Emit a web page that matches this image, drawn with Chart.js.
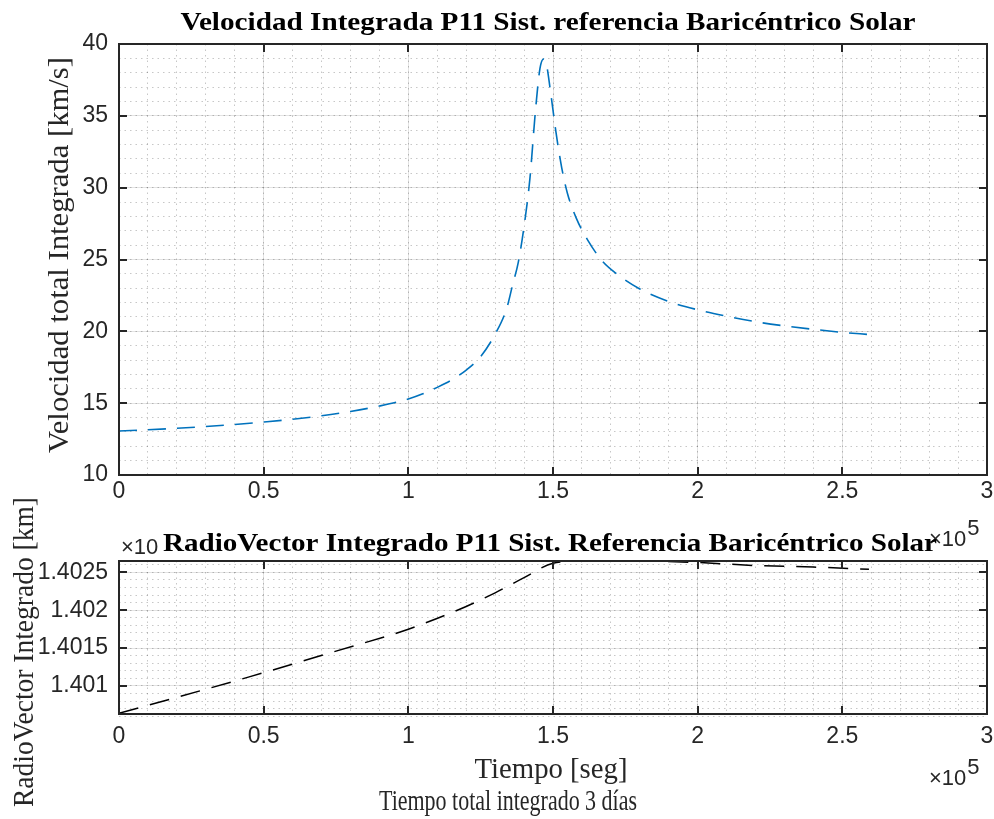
<!DOCTYPE html>
<html>
<head>
<meta charset="utf-8">
<script src="https://cdn.jsdelivr.net/npm/chart.js@4.4.0/dist/chart.umd.min.js"></script>
<style>
    html, body { margin: 0; padding: 0; background: #fff; }
    #wrap { position: relative; width: 994px; height: 819px; }
    canvas { position: absolute; left: 0; top: 0; }
</style>
</head>
<body>
<div id="wrap">
    <canvas id="velChart" width="994" height="819"></canvas>
    <canvas id="radChart" width="994" height="819"></canvas>
</div>
<script>
// tiempo en unidades de 1e5 s
const tiempoVel = [0, 0.2, 0.4, 0.5, 0.6, 0.7, 0.8, 0.9, 1.0, 1.05, 1.1, 1.15, 1.2, 1.25, 1.3, 1.34, 1.36, 1.38, 1.4, 1.42, 1.44, 1.455, 1.467, 1.478, 1.49, 1.51, 1.53, 1.55, 1.58, 1.62, 1.67, 1.72, 1.8, 1.9, 2.0, 2.1, 2.2, 2.3, 2.4, 2.5, 2.592];
// km/s
const velocidad = [13.06, 13.25, 13.52, 13.69, 13.88, 14.12, 14.42, 14.8, 15.29, 15.65, 16.1, 16.62, 17.3, 18.25, 19.8, 21.6, 23.2, 24.8, 27.3, 30.6, 35.5, 38.3, 38.95, 38.5, 36.9, 33.9, 31.4, 29.6, 27.9, 26.35, 24.9, 24.0, 22.95, 22.08, 21.5, 21.05, 20.67, 20.38, 20.14, 19.93, 19.78];

const tiempoRad = [0, 0.2, 0.45, 0.75, 1.0, 1.2, 1.3, 1.4, 1.5, 1.6, 1.8, 2.0, 2.2, 2.4, 2.592];
// km x 1e8
const radio = [1.40064, 1.40085, 1.40112, 1.40146, 1.40175, 1.40205, 1.40223, 1.40243, 1.40262, 1.40265, 1.40265, 1.40263, 1.40259, 1.40257, 1.40254];

const ticksTiempo = [0, 0.5, 1, 1.5, 2, 2.5, 3];
const ticksVel = [10, 15, 20, 25, 30, 35, 40];
const ticksRad = [1.401, 1.4015, 1.402, 1.4025];

const SANS = '"Liberation Sans", Arial, sans-serif';
const SERIF = '"Liberation Serif", "Times New Roman", serif';

function pasos(a, b, d) {
    const out = [];
    for (let v = a; v <= b + d / 2; v += d) out.push({value: Math.round(v / d) * d});
    return out;
}

// texto con ancho fijo (la figura original esta algo deformada)
function texto(ctx, t) {
    ctx.save();
    ctx.font = t.font;
    ctx.fillStyle = t.color || '#262626';
    ctx.textAlign = t.align || 'center';
    ctx.textBaseline = 'alphabetic';
    const w = ctx.measureText(t.text).width;
    ctx.translate(t.x, t.y);
    if (t.rot) ctx.rotate(t.rot);
    if (t.width) ctx.scale(t.width / w, 1);
    ctx.fillText(t.text, 0, 0);
    if (t.sup) {
        ctx.textAlign = 'left';
        ctx.fillText(t.sup, w + 1, -11);
    }
    ctx.restore();
}

const marcoMatlab = {
    id: 'marcoMatlab',
    afterDraw(chart, args, opts) {
        const {ctx, chartArea: a, scales} = chart;
        ctx.save();
        ctx.strokeStyle = '#262626';
        ctx.lineWidth = 2;
        ctx.beginPath();
        scales.x.ticks.forEach(t => {
            const px = Math.round(scales.x.getPixelForValue(t.value));
            ctx.moveTo(px, a.bottom); ctx.lineTo(px, a.bottom - 8);
            ctx.moveTo(px, a.top); ctx.lineTo(px, a.top + 8);
        });
        scales.y.ticks.forEach(t => {
            const py = Math.round(scales.y.getPixelForValue(t.value));
            ctx.moveTo(a.left, py); ctx.lineTo(a.left + 8, py);
            ctx.moveTo(a.right, py); ctx.lineTo(a.right - 8, py);
        });
        ctx.stroke();
        ctx.strokeRect(a.left, a.top, a.right - a.left, a.bottom - a.top);
        ctx.restore();
        (opts.textos || []).forEach(t => texto(ctx, t));
    }
};

function minorGrid(axis, step, min, max) {
    return {
        type: 'linear',
        axis: axis,
        position: axis === 'x' ? 'bottom' : 'left',
        min: min,
        max: max,
        afterBuildTicks: s => { s.ticks = pasos(min, max, step); },
        afterFit: s => {
            if (axis === 'x') s.height = 0; else s.width = 0;
            s.paddingLeft = s.paddingRight = s.paddingTop = s.paddingBottom = 0;
        },
        ticks: {display: false},
        grid: {color: 'rgba(38,38,38,0.26)', lineWidth: 1, drawTicks: false},
        border: {display: false, dash: [1.5, 4]}
    };
}

function ejes(xTicks, yTicks, yMin, yMax, yStep, xHeight, xPad, fmt) {
    return {
        xMinor: minorGrid('x', 0.1, 0, 3),
        yMinor: minorGrid('y', yStep, yMin, yMax),
        x: {
            type: 'linear',
            min: 0,
            max: 3,
            afterBuildTicks: s => { s.ticks = xTicks.map(v => ({value: v})); },
            afterFit: s => {
                s.height = xHeight;
                s.paddingLeft = 0;
                s.paddingRight = 0;
            },
            ticks: {
                color: '#262626',
                font: {family: SANS, size: 23},
                padding: xPad,
                maxRotation: 0,
                autoSkip: false,
                callback: v => String(v)
            },
            grid: {color: 'rgba(38,38,38,0.13)', lineWidth: 1, drawTicks: false},
            border: {display: false}
        },
        y: {
            type: 'linear',
            min: yMin,
            max: yMax,
            afterBuildTicks: s => { s.ticks = yTicks.map(v => ({value: v})); },
            afterFit: s => {
                s.width = 119;
                s.paddingTop = 0;
                s.paddingBottom = 0;
            },
            ticks: {
                color: '#262626',
                font: {family: SANS, size: 23},
                padding: 11,
                autoSkip: false,
                callback: fmt
            },
            grid: {color: 'rgba(38,38,38,0.13)', lineWidth: 1, drawTicks: false},
            border: {display: false}
        }
    };
}

const comunes = {
    responsive: false,
    maintainAspectRatio: false,
    animation: false,
    events: []
};

new Chart(document.getElementById('velChart').getContext('2d'), {
    type: 'line',
    data: {
        datasets: [{
            data: tiempoVel.map((t, i) => ({x: t, y: velocidad[i]})),
            borderColor: '#0072BD',
            borderWidth: 1.6,
            borderDash: [18, 11],
            pointRadius: 0,
            cubicInterpolationMode: 'monotone',
            fill: false
        }]
    },
    options: {
        ...comunes,
        layout: {padding: {left: 0, right: 7, top: 44, bottom: 0}},
        scales: ejes(ticksTiempo, ticksVel, 10, 40, 1, 819 - 475, 3, v => String(v)),
        plugins: {
            legend: {display: false},
            tooltip: {enabled: false},
            marcoMatlab: {
                textos: [
                    {text: 'Velocidad Integrada P11 Sist. referencia Baricéntrico Solar', x: 548, y: 30, width: 735, font: 'bold 26px ' + SERIF, color: '#000'},
                    {text: 'Velocidad total Integrada [km/s]', x: 68, y: 255, width: 396, rot: -Math.PI / 2, font: '29px ' + SERIF},
                    {text: '×10', sup: '5', x: 929, y: 546, align: 'left', font: '22px ' + SANS}
                ]
            }
        }
    },
    plugins: [marcoMatlab]
});

new Chart(document.getElementById('radChart').getContext('2d'), {
    type: 'line',
    data: {
        datasets: [{
            data: tiempoRad.map((t, i) => ({x: t, y: radio[i]})),
            borderColor: '#000000',
            borderWidth: 1.5,
            borderDash: [20, 12],
            pointRadius: 0,
            cubicInterpolationMode: 'monotone',
            fill: false
        }]
    },
    options: {
        ...comunes,
        layout: {padding: {left: 0, right: 7, top: 561, bottom: 0}},
        scales: ejes(ticksTiempo, ticksRad, 1.40063, 1.40265, 0.0001, 819 - 714, 9, v => String(Number(v.toFixed(4)))),
        plugins: {
            legend: {display: false},
            tooltip: {enabled: false},
            marcoMatlab: {
                textos: [
                    {text: '×10', x: 121, y: 554, align: 'left', font: '22px ' + SANS},
                    {text: 'RadioVector Integrado P11 Sist. Referencia Baricéntrico Solar', x: 550, y: 551, width: 774, font: 'bold 26px ' + SERIF, color: '#000'},
                    {text: 'RadioVector Integrado [km]', x: 33, y: 652, width: 310, rot: -Math.PI / 2, font: '29px ' + SERIF},
                    {text: 'Tiempo [seg]', x: 551, y: 778, width: 153, font: '29px ' + SERIF},
                    {text: 'Tiempo total integrado 3 días', x: 508, y: 810, width: 258, font: '29px ' + SERIF},
                    {text: '×10', sup: '5', x: 929, y: 785, align: 'left', font: '22px ' + SANS}
                ]
            }
        }
    },
    plugins: [marcoMatlab]
});
</script>
</body>
</html>
